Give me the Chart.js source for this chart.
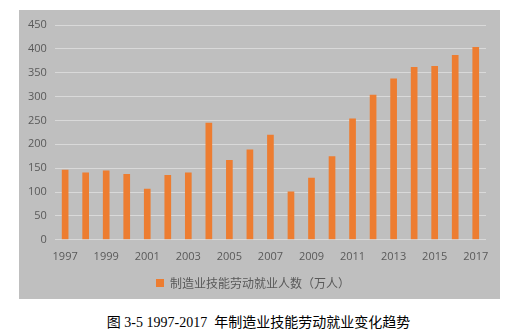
<!DOCTYPE html>
<html lang="zh-CN">
<head>
  <meta charset="UTF-8">
  <title>制造业技能劳动就业变化趋势</title>
  <script src="https://cdn.jsdelivr.net/npm/chart.js"></script>
  <style>
    html, body { margin: 0; padding: 0; background: #fff; }
    body { width: 517px; height: 330px; position: relative; overflow: hidden; }
    .painel {
      position: absolute; left: 19px; top: 10px;
      width: 481px; height: 289px; background: #bfbfbf;
    }
    .legenda-fig {
      position: absolute; left: 0; width: 517px; top: 311px;
      text-align: center; font-size: 14px; color: #000;
      font-family: "Liberation Serif", "Noto Sans CJK SC", serif;
    }
  </style>
</head>
<body>
  <div class="painel">
    <canvas id="grafico" width="481" height="289"></canvas>
  </div>
  <div class="legenda-fig">图 3-5 1997-2017&nbsp; 年制造业技能劳动就业变化趋势</div>

  <script>
    const anos = ['1997', '1998', '1999', '2000', '2001', '2002', '2003', '2004', '2005', '2006', '2007',
                  '2008', '2009', '2010', '2011', '2012', '2013', '2014', '2015', '2016', '2017'];
    const empregados = [147, 141, 145, 138, 107, 136, 141, 245, 167, 189, 220,
                        101, 130, 175, 254, 304, 338, 362, 364, 387, 404];
    const nomeSerie = '制造业技能劳动就业人数（万人）';

    const fonte = { family: '"Open Sans", "Noto Sans CJK SC", sans-serif', size: 11 };

    new Chart(document.getElementById('grafico'), {
      type: 'bar',
      data: {
        labels: anos,
        datasets: [{
          label: nomeSerie,
          data: empregados,
          backgroundColor: '#ed7d31',
          barPercentage: 0.65,
          categoryPercentage: 0.5
        }]
      },
      options: {
        responsive: false,
        animation: false,
        layout: { padding: { left: 1, right: 14, top: 15, bottom: 0 } },
        scales: {
          x: {
            grid: { display: false },
            border: { display: false },
            ticks: {
              color: '#595959', font: fonte, autoSkip: false, maxRotation: 0, padding: 2,
              callback: function (v, i) { return i % 2 === 0 ? this.getLabelForValue(v) : ''; }
            }
          },
          y: {
            min: 0, max: 450,
            grid: { color: '#d9d9d9', lineWidth: 1, drawTicks: false },
            border: { display: false },
            ticks: { stepSize: 50, color: '#595959', font: fonte, padding: 8 }
          }
        },
        plugins: {
          legend: {
            position: 'bottom',
            labels: {
              color: '#595959', boxWidth: 8, boxHeight: 8,
              font: { family: '"Noto Sans CJK SC", sans-serif', size: 12 }, padding: 12
            }
          },
          tooltip: { enabled: false }
        }
      }
    });
  </script>
</body>
</html>
